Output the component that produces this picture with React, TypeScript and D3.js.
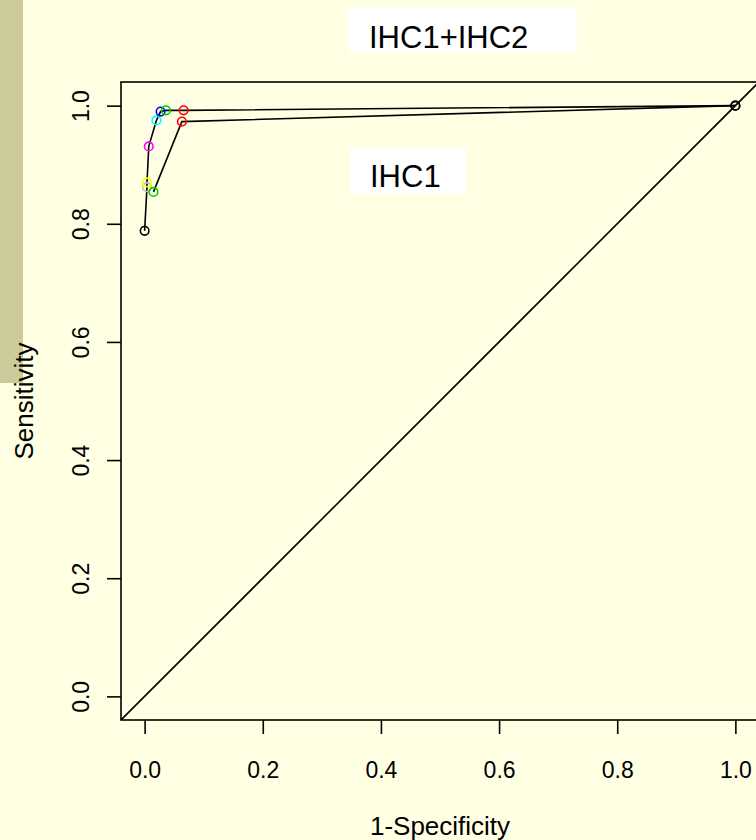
import React, { useEffect, useRef } from 'react'
import * as d3 from 'd3'

// ROC points (1-specificity, sensitivity)
const comboFpr = [0, 0.004, 0.004, 0.007, 0.02, 0.027, 0.036, 0.066, 1]
const comboTpr = [0.788, 0.862, 0.87, 0.931, 0.975, 0.99, 0.992, 0.992, 1]
const comboColors = ['#000000', '#bebebe', '#ffff00', '#ff00ff', '#00ffff', '#0000ff', '#00cd00', '#ff0000', '#000000']

const ihc1Fpr = [0.015, 0.063, 1]
const ihc1Tpr = [0.854, 0.973, 1]
const ihc1Colors = ['#00cd00', '#ff0000', '#000000']

const tickValues = [0, 0.2, 0.4, 0.6, 0.8, 1]

const W = 756
const H = 840
const bg = '#ffffe3'
const font = 'Liberation Sans, Arial, sans-serif'

function App() {
  const ref = useRef<SVGSVGElement>(null)

  useEffect(() => {
    const svg = d3.select(ref.current)
    svg.selectAll('*').remove()

    // plot region in pixels, axes padded 4% like R
    const left = 121, right = 759, top = 82, bottom = 720
    const x = d3.scaleLinear().domain([-0.04, 1.04]).range([left, right])
    const y = d3.scaleLinear().domain([-0.04, 1.04]).range([bottom, top])

    svg.append('rect').attr('width', W).attr('height', H).attr('fill', bg)
    svg.append('rect').attr('x', 0).attr('y', 0).attr('width', 23).attr('height', 383).attr('fill', '#cdcb9a')

    svg.append('clipPath').attr('id', 'plotclip')
      .append('rect').attr('x', left).attr('y', top).attr('width', right - left).attr('height', bottom - top)

    const plot = svg.append('g').attr('clip-path', 'url(#plotclip)')

    // chance diagonal
    plot.append('line')
      .attr('x1', x(-0.04)).attr('y1', y(-0.04))
      .attr('x2', x(1.04)).attr('y2', y(1.04))
      .attr('stroke', '#000').attr('stroke-width', 1.6)

    const line = d3.line<[number, number]>().x(d => x(d[0])).y(d => y(d[1]))

    const curves = [
      { fpr: comboFpr, tpr: comboTpr, colors: comboColors },
      { fpr: ihc1Fpr, tpr: ihc1Tpr, colors: ihc1Colors },
    ]

    curves.forEach(c => {
      const pts = c.fpr.map((v, i) => [v, c.tpr[i]] as [number, number])
      plot.append('path')
        .attr('d', line(pts))
        .attr('fill', 'none')
        .attr('stroke', '#000')
        .attr('stroke-width', 1.6)
      plot.selectAll(null)
        .data(pts)
        .enter()
        .append('circle')
        .attr('cx', d => x(d[0]))
        .attr('cy', d => y(d[1]))
        .attr('r', 4.3)
        .attr('fill', 'none')
        .attr('stroke', (d, i) => c.colors[i])
        .attr('stroke-width', 1.6)
    })

    // box
    svg.append('rect')
      .attr('x', left).attr('y', top).attr('width', right - left).attr('height', bottom - top)
      .attr('fill', 'none').attr('stroke', '#000').attr('stroke-width', 1.6)

    // x axis
    const xAxis = svg.append('g')
      .attr('transform', `translate(0, ${bottom})`)
      .call(d3.axisBottom(x).tickValues(tickValues).tickSize(14).tickFormat(d3.format('.1f')))
    xAxis.select('.domain').remove()
    xAxis.selectAll('line').attr('stroke-width', 1.6)
    xAxis.selectAll('text')
      .attr('y', 58).attr('dy', null)
      .style('font-family', font)
      .style('font-size', '23px')
      .attr('fill', '#000')

    // y axis, labels turned like R's las=0
    const yAxis = svg.append('g')
      .attr('transform', `translate(${left}, 0)`)
      .call(d3.axisLeft(y).tickValues(tickValues).tickSize(14).tickFormat(d3.format('.1f')))
    yAxis.select('.domain').remove()
    yAxis.selectAll('line').attr('stroke-width', 1.6)
    yAxis.selectAll('text')
      .attr('x', null).attr('dy', null)
      .attr('text-anchor', 'middle')
      .attr('transform', 'translate(-32, 0) rotate(-90)')
      .style('font-family', font)
      .style('font-size', '23px')
      .attr('fill', '#000')

    svg.append('text')
      .attr('x', (left + right) / 2).attr('y', 835)
      .attr('text-anchor', 'middle')
      .style('font-family', font)
      .style('font-size', '26px')
      .text('1-Specificity')

    svg.append('text')
      .attr('transform', `translate(33, ${(top + bottom) / 2}) rotate(-90)`)
      .attr('text-anchor', 'middle')
      .style('font-family', font)
      .style('font-size', '26px')
      .text('Sensitivity')

    // white label boxes
    const labels = [
      { text: 'IHC1+IHC2', x: 349, y: 8, w: 228, h: 45, tx: 369, ty: 48 },
      { text: 'IHC1', x: 350, y: 148, w: 116, h: 46, tx: 370, ty: 187 },
    ]
    labels.forEach(l => {
      svg.append('rect').attr('x', l.x).attr('y', l.y).attr('width', l.w).attr('height', l.h).attr('fill', '#fff')
      svg.append('text')
        .attr('x', l.tx).attr('y', l.ty)
        .style('font-family', font)
        .style('font-size', '31px')
        .text(l.text)
    })
  }, [])

  return (
    <svg ref={ref} width={W} height={H} style={{ position: 'absolute', left: 0, top: 0, display: 'block' }} />
  )
}

export default App
